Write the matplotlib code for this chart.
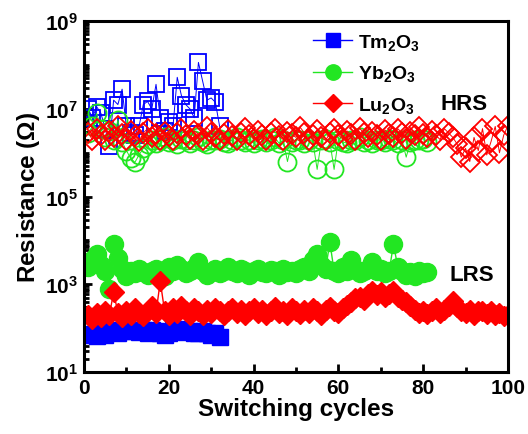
import numpy as np
import matplotlib
matplotlib.use('Agg')
import matplotlib.pyplot as plt
from matplotlib.ticker import FixedLocator, LogLocator, MultipleLocator, FuncFormatter, NullFormatter

plt.rcParams['font.family'] = 'Liberation Sans'
plt.rcParams['font.weight'] = 'bold'
plt.rcParams['mathtext.fontset'] = 'custom'
plt.rcParams['mathtext.rm'] = 'Liberation Sans:bold'
plt.rcParams['mathtext.it'] = 'Liberation Sans:bold'
plt.rcParams['mathtext.bf'] = 'Liberation Sans:bold'

# log10(resistance)
tm_hrs = [7.0, 6.8, 7.05, 6.9, 6.55, 6.15, 7.2, 7.1, 7.45, 6.6, 6.45, 6.4, 6.6, 7.1, 7.17, 7.0,
          7.56, 6.8, 6.5, 6.7, 6.6, 7.72, 7.3, 7.1, 7.0, 6.8, 8.06, 7.63, 7.2, 7.25, 7.15, 6.6]
tm_lrs = [1.84, 1.86, 1.82, 1.88, 1.85, 1.92, 1.95, 1.9, 1.93, 1.97, 1.94, 1.96, 1.92, 1.95, 1.9, 1.96,
          1.93, 1.88, 1.85, 1.9, 1.95, 1.93, 1.97, 1.92, 1.94, 1.9, 1.88, 1.93, 1.9, 1.85, 1.88, 1.8]

yb_hrs = [6.45, 6.6, 6.9, 6.55, 6.35, 6.5, 6.3, 6.75, 6.25, 6.05, 5.88, 5.78, 5.95, 6.1, 6.2, 6.3, 6.22, 6.28, 6.35, 6.25,
          6.3, 6.2, 6.32, 6.28, 6.22, 6.3, 6.35, 6.25, 6.2, 6.3, 6.28, 6.32, 6.25, 6.22, 6.3, 6.35, 6.28, 6.25, 6.3, 6.22,
          6.28, 6.32, 6.25, 6.3, 6.35, 6.22, 6.28, 5.8, 6.25, 6.3, 6.28, 6.22, 6.3, 6.25, 5.62, 6.28, 6.32, 6.25, 5.62, 6.3,
          6.25, 6.22, 6.3, 6.28, 6.35, 6.25, 6.3, 6.22, 6.28, 6.3, 6.25, 6.32, 6.28, 6.22, 6.3, 5.9, 6.25, 6.3, 6.28, 6.32, 6.25]
yb_lrs = [3.4, 3.55, 3.7, 3.45, 3.3, 2.9, 3.92, 3.6, 3.35, 3.2, 3.3, 3.25, 3.35, 3.28, 3.22, 3.3, 3.35, 3.25, 3.2, 3.4,
          3.3, 3.45, 3.35, 3.25, 3.3, 3.38, 3.5, 3.3, 3.22, 3.28, 3.35, 3.25, 3.3, 3.4, 3.3, 3.25, 3.35, 3.3, 3.22, 3.3,
          3.35, 3.28, 3.25, 3.32, 3.3, 3.22, 3.35, 3.28, 3.3, 3.25, 3.35, 3.4, 3.3, 3.55, 3.7, 3.45, 3.35, 3.96, 3.3, 3.25,
          3.4, 3.3, 3.55, 3.35, 3.25, 3.3, 3.35, 3.5, 3.3, 3.35, 3.25, 3.3, 3.92, 3.4, 3.3, 3.22, 3.28, 3.2, 3.3, 3.25, 3.28]

lu_hrs = [6.45, 6.3, 6.55, 6.4, 6.28, 6.5, 6.35, 6.6, 6.42, 6.3, 6.5, 6.38, 6.27, 6.45, 6.55, 6.35, 6.42, 6.3, 6.48, 6.38,
          6.28, 6.45, 6.55, 6.4, 6.32, 6.5, 6.42, 6.3, 6.58, 6.45, 6.35, 6.28, 6.42, 6.52, 6.38, 6.3, 6.46, 6.56, 6.4, 6.32,
          6.5, 6.4, 6.28, 6.45, 6.55, 6.38, 6.3, 6.48, 6.42, 6.35, 6.58, 6.45, 6.3, 6.4, 6.52, 6.35, 6.28, 6.45, 6.55, 6.4,
          6.32, 6.5, 6.42, 6.3, 6.56, 6.45, 6.35, 6.48, 6.4, 6.3, 6.52, 6.42, 6.35, 6.55, 6.45, 6.32, 6.48, 6.4, 6.58, 6.42,
          6.35, 6.5, 6.4, 6.3, 6.55, 6.45, 6.35, 6.2, 5.9, 6.1, 5.8, 6.35, 6.05, 6.55, 5.95, 6.25, 6.6, 6.0, 6.4, 6.62]
lu_lrs = [2.3, 2.2, 2.35, 2.25, 2.4, 2.3, 2.82, 2.35, 2.25, 2.4, 2.3, 2.45, 2.35, 2.28, 2.4, 2.5, 2.35, 3.07, 2.4, 2.3,
          2.45, 2.35, 2.5, 2.4, 2.3, 2.45, 2.38, 2.3, 2.42, 2.35, 2.45, 2.38, 2.3, 2.4, 2.45, 2.35, 2.42, 2.3, 2.38, 2.45,
          2.35, 2.42, 2.3, 2.4, 2.48, 2.35, 2.4, 2.3, 2.45, 2.38, 2.32, 2.42, 2.35, 2.45, 2.38, 2.3, 2.42, 2.48, 2.38, 2.35,
          2.45, 2.52, 2.6, 2.68, 2.72, 2.65, 2.78, 2.85, 2.75, 2.82, 2.7, 2.78, 2.85, 2.72, 2.65, 2.6, 2.5, 2.42, 2.35, 2.4,
          2.32, 2.38, 2.45, 2.35, 2.42, 2.5, 2.62, 2.48, 2.4, 2.35, 2.42, 2.3, 2.38, 2.4, 2.32, 2.38, 2.3, 2.35, 2.28, 2.3]

blue = '#0000ff'
green = '#22e622'
red = '#ff0000'

fig = plt.figure(figsize=(5.28, 4.35), dpi=100)
ax = fig.add_axes([0.159, 0.1425, 0.803, 0.8065])

series = [
    (tm_hrs, tm_lrs, blue, 's', 12, r'$\mathrm{Tm_2O_3}$'),
    (yb_hrs, yb_lrs, green, 'o', 13, r'$\mathrm{Yb_2O_3}$'),
    (lu_hrs, lu_lrs, red, 'D', 10.5, r'$\mathrm{Lu_2O_3}$'),
]
handles = []
for hrs, lrs, c, m, ms, lab in series:
    n = np.arange(1, len(hrs) + 1)
    ax.plot(n, 10 ** np.array(hrs), color=c, lw=0.7, marker=m, ms=ms,
            mfc='none', mec=c, mew=1.3)
    h, = ax.plot(n, 10 ** np.array(lrs), color=c, lw=1.0, marker=m, ms=ms,
                 mfc=c, mec=c, label=lab)
    handles.append(h)

ax.set_yscale('log')
ax.set_xlim(0, 100)
ax.set_ylim(1e1, 1e9)

ax.yaxis.set_major_locator(FixedLocator([1e1, 1e3, 1e5, 1e7, 1e9]))
ax.yaxis.set_minor_locator(LogLocator(base=10, subs=np.arange(1, 10), numticks=20))
ax.yaxis.set_minor_formatter(NullFormatter())
ax.yaxis.set_major_formatter(FuncFormatter(lambda v, p: r'$\mathrm{10^{%d}}$' % round(np.log10(v))))
ax.xaxis.set_major_locator(MultipleLocator(20))
ax.xaxis.set_minor_locator(MultipleLocator(10))

ax.tick_params(which='both', direction='in', top=False, right=False, labelsize=15, width=2)
ax.tick_params(which='major', length=6, pad=4)
ax.tick_params(which='minor', length=3.5)
for s in ax.spines.values():
    s.set_linewidth(2.2)

ax.set_xlabel('Switching cycles', fontsize=17.5, fontweight='bold', labelpad=0)
ax.set_ylabel(r'Resistance ($\Omega$)', fontsize=17.5, fontweight='bold', labelpad=2)

ax.text(0.84, 0.75, 'HRS', transform=ax.transAxes, fontsize=16, fontweight='bold')
ax.text(0.863, 0.262, 'LRS', transform=ax.transAxes, fontsize=16, fontweight='bold')

fig.legend(handles=handles, loc='upper left', bbox_to_anchor=(0.56, 0.965), frameon=False,
           fontsize=14, handlelength=2.0, handletextpad=0.3, labelspacing=0.6, markerscale=0.85)

fig.savefig('out.png', dpi=100)
